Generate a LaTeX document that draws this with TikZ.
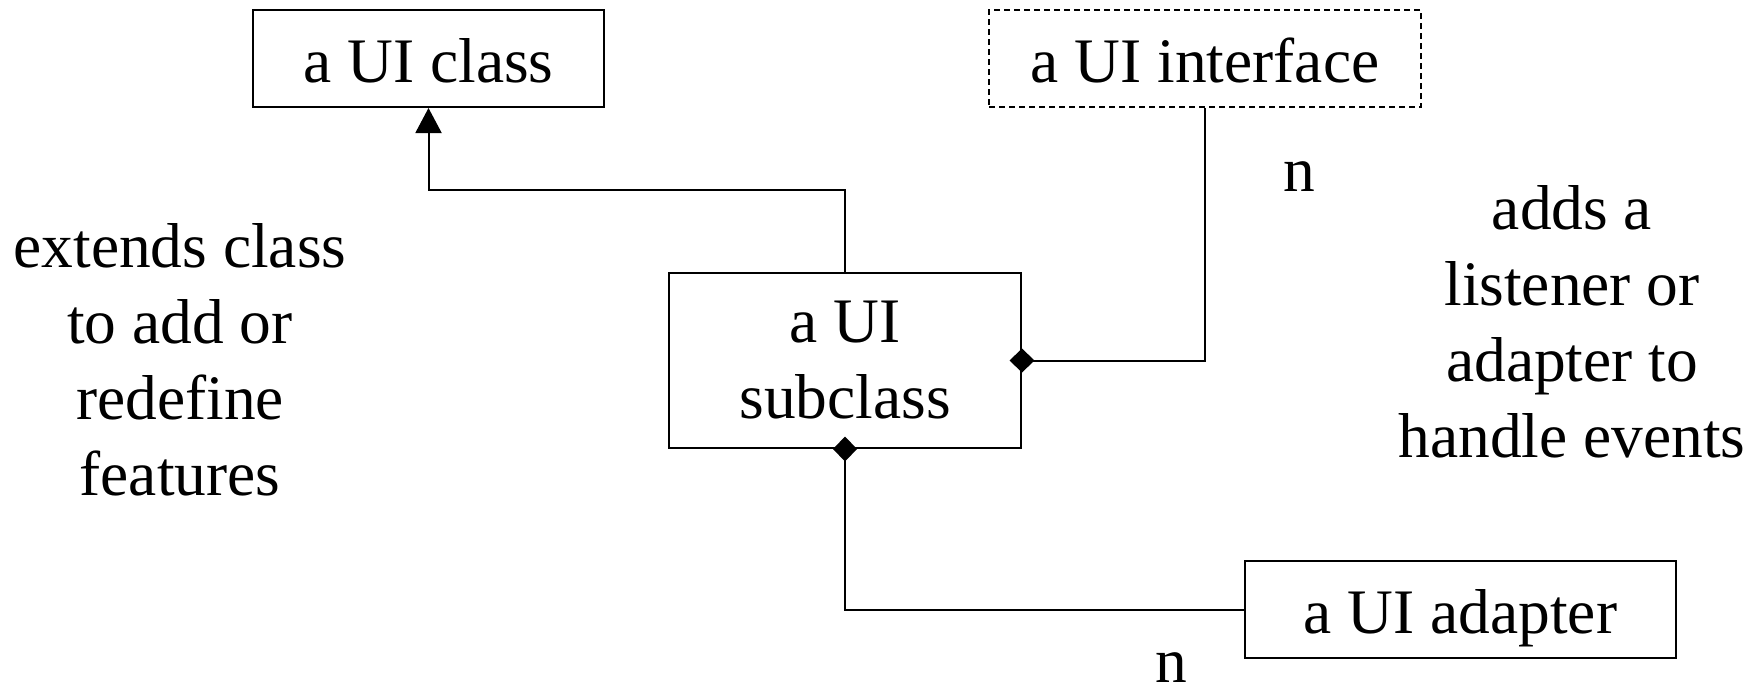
\documentclass[tikz,border=0pt]{standalone}
\usepackage{fontspec}
\setmainfont{Liberation Serif}
\usetikzlibrary{arrows.meta,positioning}

\begin{document}
\begin{tikzpicture}[x=0.5pt,y=-0.5pt,line width=1pt,
    every node/.style={font=\fontsize{31.7}{38}\selectfont},
    uibox/.style={draw,line width=1pt,inner sep=0pt,minimum height=48.5pt},
    oneline/.style={uibox,text height=25.5pt,text depth=2pt},
    remark/.style={align=center,inner sep=0pt},
    owns/.style={{Diamond[length=12.5pt,width=12pt]}-,shorten <=-6.25pt}]
  \useasboundingbox (0,0) rectangle (1764,691);

  % the four UI parts
  \node[oneline,minimum width=175.5pt] (class) at (428.5,58.5) {a UI class};
  \node[oneline,dash pattern=on 3pt off 2pt,minimum width=216pt] (iface) at (1205,58.5) {a UI interface};
  \node[uibox,align=center,minimum width=176pt,minimum height=87.5pt] (sub) at (845,360.5) {a UI\\subclass};
  \node[oneline,minimum width=215.5pt] (adapter) at (1460.5,609.5) {a UI adapter};

  % inheritance
  \draw[-{Triangle[length=12.5pt,width=13pt]}] (sub.north) -- ++(0,-82) -| (class.south);

  % aggregation
  \draw[owns] (sub.east) -| (iface.south);
  \draw[owns] (sub.south) |- (adapter.west);

  % multiplicities
  \node (nface) at (1299,177) {n};
  \node (nadapt) at (1171,668) {n};

  % notes
  \node[remark] (extnote) at (180,360) {extends class\\to add or\\redefine\\features};
  \node[remark] (addnote) at (1572,322) {adds a\\listener or\\adapter to\\handle events};
\end{tikzpicture}
\end{document}
